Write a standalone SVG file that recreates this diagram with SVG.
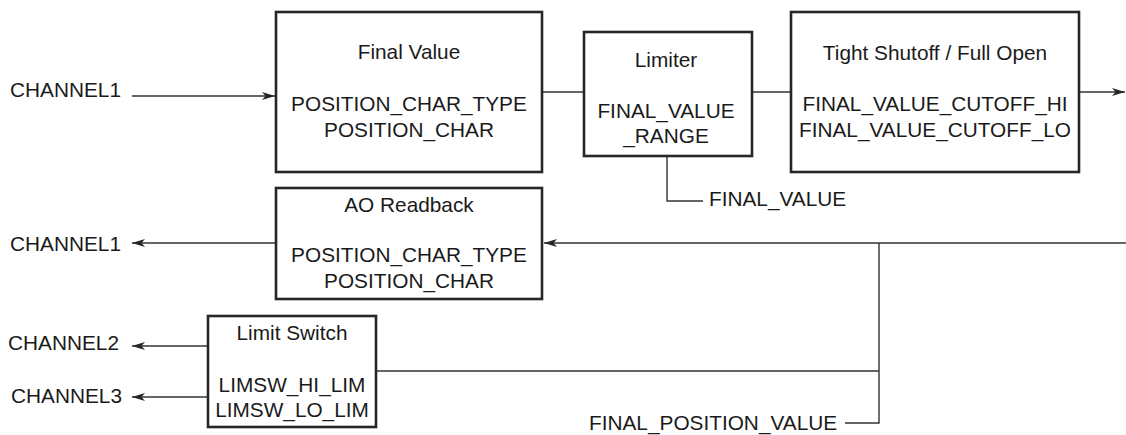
<svg xmlns="http://www.w3.org/2000/svg" width="1126" height="435" viewBox="0 0 1126 435">
<style>
text{font-family:"Liberation Sans",Arial,Helvetica,sans-serif;font-size:20.8px;fill:#1a1a1a}
.box{fill:#fff;stroke:#262626;stroke-width:2.6}
.c{fill:none;stroke:#333;stroke-width:1.4}
.m{text-anchor:middle}
.e{text-anchor:end}
</style>
<defs>
<marker id="arr" markerUnits="userSpaceOnUse" markerWidth="14" markerHeight="10" viewBox="0 0 14 10" refX="13" refY="5" orient="auto">
<path d="M0,1 L13,5 L0,9 L3.5,5 z" fill="#262626"/>
</marker>
</defs>
<rect width="1126" height="435" fill="#fff"/>
<g id="connectors">
<path class="c" d="M132,96 H275" marker-end="url(#arr)"/>
<path class="c" d="M542,92 H584"/>
<path class="c" d="M752,92 H791"/>
<path class="c" d="M1079,92 H1125" marker-end="url(#arr)"/>
<path class="c" d="M667,156 V201 H703"/>
<path class="c" d="M1126,243 H544" marker-end="url(#arr)"/>
<path class="c" d="M276,243 H132" marker-end="url(#arr)"/>
<path class="c" d="M208,346 H132" marker-end="url(#arr)"/>
<path class="c" d="M208,397 H132" marker-end="url(#arr)"/>
<path class="c" d="M376,371 H879"/>
<path class="c" d="M879,243 V423 H845"/>
</g>
<g id="labels">
<text class="e" x="121" y="97">CHANNEL1</text>
<text x="709" y="206">FINAL_VALUE</text>
<text class="e" x="121" y="251">CHANNEL1</text>
<text class="e" x="119" y="350">CHANNEL2</text>
<text class="e" x="122" y="403">CHANNEL3</text>
<text x="589" y="430">FINAL_POSITION_VALUE</text>
</g>
<g id="final-value">
<rect class="box" x="276" y="12" width="266" height="160"/>
<text class="m" x="409" y="59">Final Value</text>
<text class="m" x="409" y="111">POSITION_CHAR_TYPE</text>
<text class="m" x="409" y="137">POSITION_CHAR</text>
</g>
<g id="limiter">
<rect class="box" x="584" y="32" width="168" height="124"/>
<text class="m" x="666" y="67">Limiter</text>
<text class="m" x="666" y="118">FINAL_VALUE</text>
<text class="m" x="666" y="143">_RANGE</text>
</g>
<g id="tight-shutoff">
<rect class="box" x="791" y="12" width="288" height="160"/>
<text class="m" x="935" y="60">Tight Shutoff / Full Open</text>
<text class="m" x="935" y="111">FINAL_VALUE_CUTOFF_HI</text>
<text class="m" x="935" y="137">FINAL_VALUE_CUTOFF_LO</text>
</g>
<g id="ao-readback">
<rect class="box" x="276" y="188" width="266" height="111"/>
<text class="m" x="409" y="212">AO Readback</text>
<text class="m" x="409" y="262">POSITION_CHAR_TYPE</text>
<text class="m" x="409" y="288">POSITION_CHAR</text>
</g>
<g id="limit-switch">
<rect class="box" x="208" y="316" width="168" height="111"/>
<text class="m" x="292" y="340">Limit Switch</text>
<text class="m" x="292" y="392">LIMSW_HI_LIM</text>
<text class="m" x="292" y="417">LIMSW_LO_LIM</text>
</g>
</svg>
